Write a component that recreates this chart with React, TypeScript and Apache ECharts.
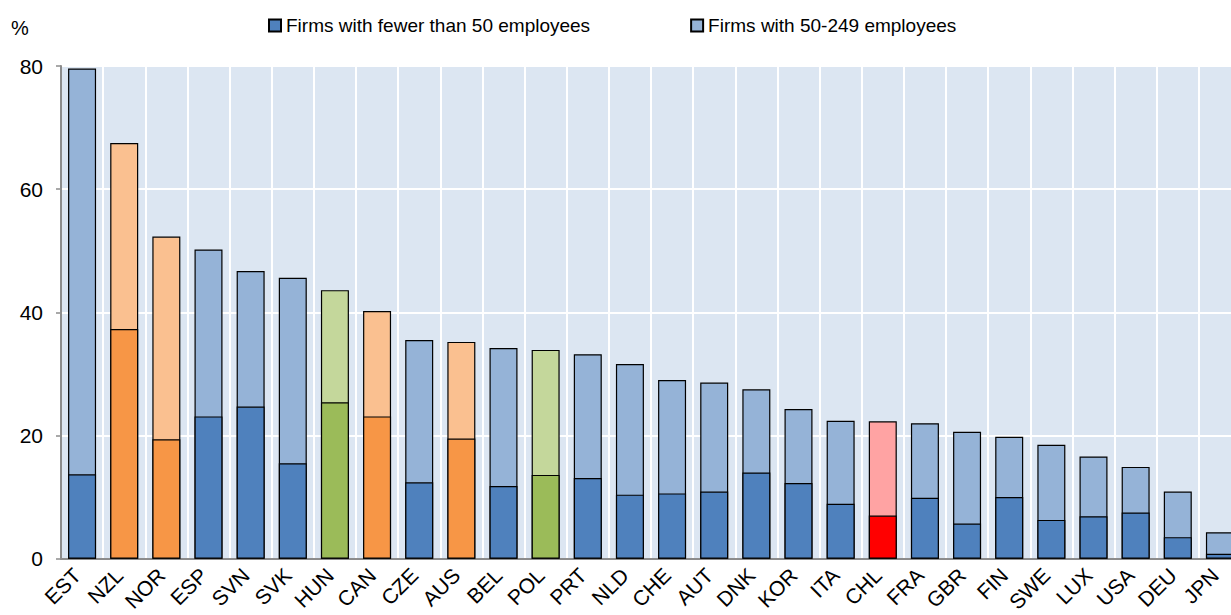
import React, { useEffect, useRef } from "react";
import * as echarts from "echarts";

const categories = ["EST","NZL","NOR","ESP","SVN","SVK","HUN","CAN","CZE","AUS","BEL","POL","PRT","NLD","CHE","AUT","DNK","KOR","ITA","CHL","FRA","GBR","FIN","SWE","LUX","USA","DEU","JPN"];
const small = [13.7,37.3,19.4,23.1,24.7,15.5,25.4,23.1,12.4,19.5,11.8,13.6,13.1,10.4,10.6,10.9,14.0,12.3,8.9,7.0,9.9,5.7,10.0,6.3,6.9,7.5,3.5,0.8];
const medium = [79.6,67.5,52.3,50.2,46.7,45.6,43.6,40.2,35.5,35.2,34.2,33.9,33.2,31.6,29.0,28.6,27.5,24.3,22.4,22.3,22.0,20.6,19.8,18.5,16.6,14.9,10.9,4.3];
const groups = ["b","o","o","b","b","b","g","o","b","o","b","g","b","b","b","b","b","b","b","r","b","b","b","b","b","b","b","b"];
const yTicks = [0, 20, 40, 60, 80];

const darkColors: Record<string, string> = { b: "#4F81BD", o: "#F79646", g: "#9BBB59", r: "#FF0000" };
const lightColors: Record<string, string> = { b: "#95B3D7", o: "#FAC090", g: "#C4D79B", r: "#FFA3A3" };

const FONT = "'Liberation Sans', Arial, sans-serif";

export default function App() {
  const ref = useRef<HTMLDivElement>(null);
  useEffect(() => {
    if (!ref.current) return;
    const chart = echarts.init(ref.current, undefined, { renderer: "svg" });
    const border = { borderColor: "#000", borderWidth: 1.2 };
    chart.setOption({
      animation: false,
      backgroundColor: "#fff",
      textStyle: { fontFamily: FONT },
      graphic: [
        { type: "text", left: 11, top: 18, style: { text: "%", fontSize: 20, fontFamily: FONT, fill: "#000" } },
      ],
      legend: {
        left: 263,
        top: 11,
        itemWidth: 12,
        itemHeight: 12,
        itemGap: 100,
        icon: "rect",
        textStyle: { fontSize: 19, color: "#000", fontFamily: FONT },
        data: ["Firms with fewer than 50 employees", "Firms with 50-249 employees"],
      },
      grid: {
        left: 61,
        top: 66,
        width: 1180,
        height: 493,
        show: true,
        backgroundColor: "#DCE6F2",
        borderColor: "#9a9a9a",
        borderWidth: 1.5,
      },
      xAxis: {
        type: "category",
        data: categories,
        axisLine: { show: true, lineStyle: { color: "#8c8c8c", width: 2 } },
        axisTick: { show: false },
        axisLabel: { rotate: 45, fontSize: 21, color: "#000", margin: 8, padding: [0, 7, 0, 0], interval: 0, fontFamily: FONT },
        splitLine: { show: true, interval: 0, lineStyle: { color: "#fff", width: 2 } },
      },
      yAxis: {
        type: "value",
        min: yTicks[0],
        max: yTicks[yTicks.length - 1],
        interval: 20,
        axisLine: { show: true, lineStyle: { color: "#8c8c8c", width: 2 } },
        axisTick: { show: true, length: 5, lineStyle: { color: "#8c8c8c", width: 1.5 } },
        axisLabel: { fontSize: 21, color: "#000", margin: 18, fontFamily: FONT },
        splitLine: { show: true, lineStyle: { color: "#fff", width: 2 } },
      },
      series: [
        {
          name: "Firms with 50-249 employees",
          type: "bar",
          barWidth: 28,
          itemStyle: { color: lightColors.b, ...border },
          data: medium.map((v, i) => ({ value: v, itemStyle: { color: lightColors[groups[i]] } })),
          z: 2,
        },
        {
          name: "Firms with fewer than 50 employees",
          type: "bar",
          barWidth: 28,
          barGap: "-100%",
          itemStyle: { color: darkColors.b, ...border },
          data: small.map((v, i) => ({ value: v, itemStyle: { color: darkColors[groups[i]] } })),
          z: 3,
        },
      ],
    });
    return () => chart.dispose();
  }, []);
  return (
    <div style={{ position: "absolute", left: 0, top: 0, width: 1231, height: 615, overflow: "hidden" }}>
      <div ref={ref} style={{ width: 1260, height: 615 }} />
    </div>
  );
}
